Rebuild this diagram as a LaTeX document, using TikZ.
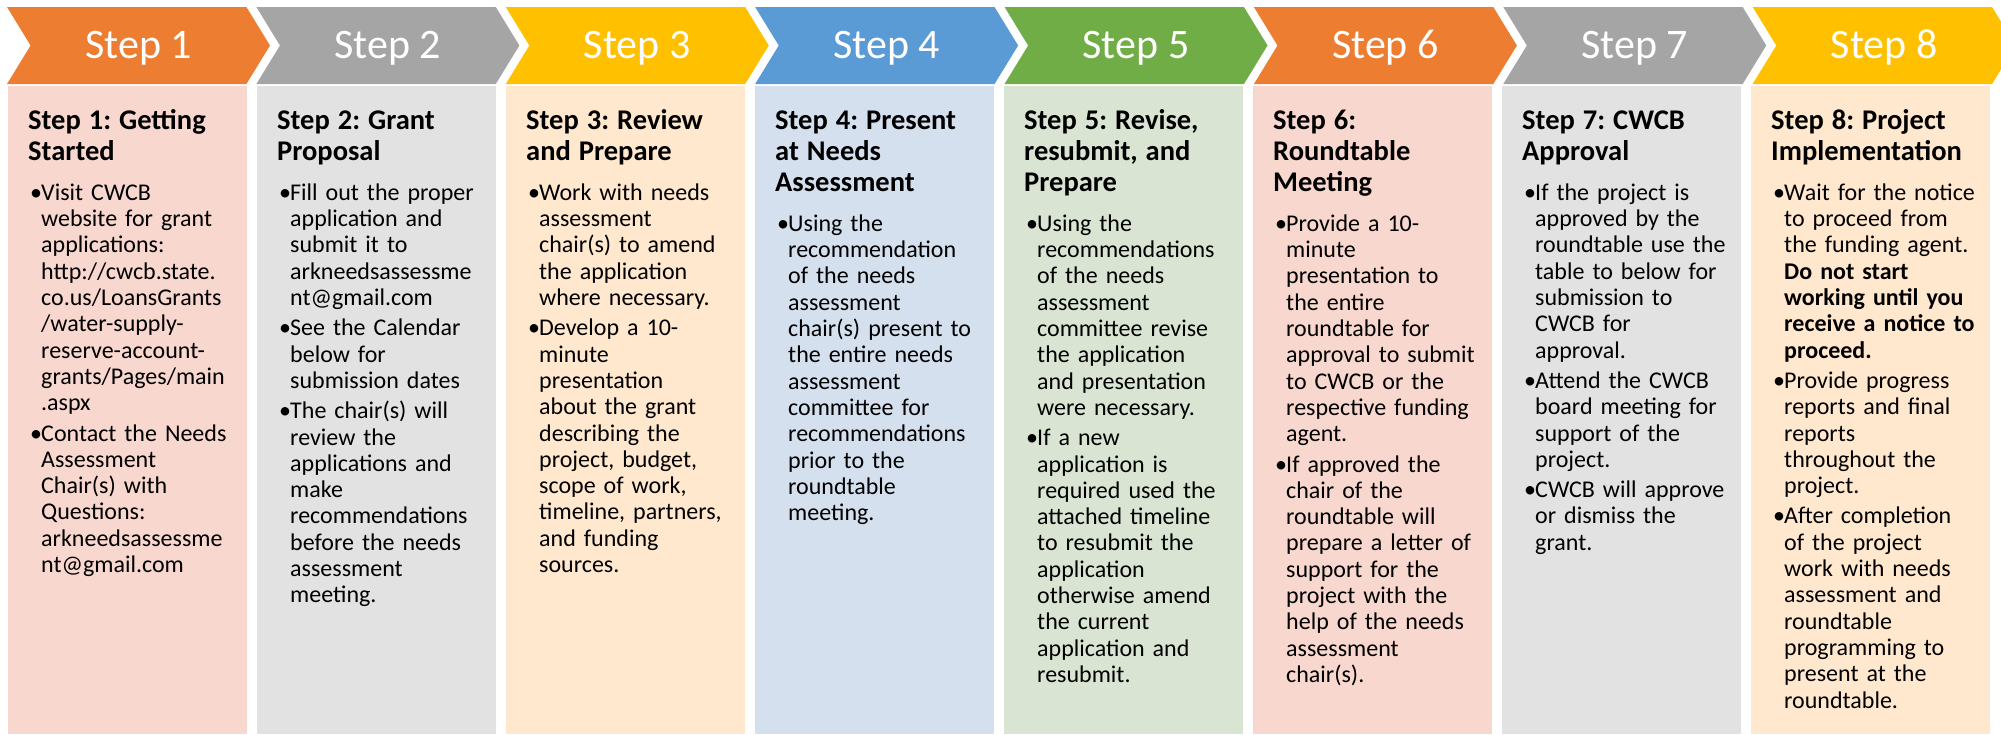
\documentclass[tikz,border=0pt]{standalone}
\usepackage{fontspec}
\setmainfont{Carlito}
\usetikzlibrary{shapes.symbols, positioning, chains}

\definecolor{orng}{HTML}{ED7D31}
\definecolor{gry}{HTML}{A5A5A5}
\definecolor{gld}{HTML}{FFC000}
\definecolor{blu}{HTML}{5B9BD5}
\definecolor{grn}{HTML}{70AD47}
\definecolor{orngL}{HTML}{F8D8CE}
\definecolor{gryL}{HTML}{E2E2E2}
\definecolor{gldL}{HTML}{FFE8CE}
\definecolor{bluL}{HTML}{D5E0EE}
\definecolor{grnL}{HTML}{D9E5D2}

% title and bullet of a panel
\newcommand{\ttl}[1]{{\let\\\newline\frenchspacing\fontsize{28.5}{31}\selectfont\bfseries #1\par}\vspace{10pt}}
\newcommand{\bitem}[1]{\par\vspace{4pt}{\let\\\newline\frenchspacing\hangindent=13pt\hangafter=1\noindent\makebox[13pt][l]{\kern2pt\textbullet}#1\par}}

\begin{document}
\begin{tikzpicture}[x=1pt, y=-1pt, start chain=1 going right, node distance=9.5pt,
  chev/.style={signal, signal from=west, signal to=east, signal pointer angle=117,
    minimum width=263pt, minimum height=77pt, inner sep=0pt, text=white,
    font=\fontsize{42}{50}\selectfont, text height=26.5pt, text depth=0pt},
  stepbox/.style={rectangle, anchor=north west, minimum width=239pt, minimum height=648pt, inner sep=0pt},
  desc/.style={anchor=base west, text width=228pt, inner sep=0pt, font=\fontsize{24}{26.3}\selectfont}]
  \useasboundingbox (0,0) rectangle (2001,734);
			% chevrons
			\node[chev, on chain=1, fill=orng] (s1) at (138.5,45.5) {Step 1};
			\node[chev, on chain=1, fill=gry] (s2) {Step 2};
			\node[chev, on chain=1, fill=gld] (s3) {Step 3};
			\node[chev, on chain=1, fill=blu] (s4) {Step 4};
			\node[chev, on chain=1, fill=grn] (s5) {Step 5};
			\node[chev, on chain=1, fill=orng] (s6) {Step 6};
			\node[chev, on chain=1, fill=gry] (s7) {Step 7};
			\node[chev, on chain=1, fill=gld] (s8) {Step 8};
			% panels
			\node[stepbox, fill=orngL] (p1) at (8,86) {};
			\node[stepbox, fill=gryL] (p2) at (257,86) {};
			\node[stepbox, fill=gldL] (p3) at (506,86) {};
			\node[stepbox, fill=bluL] (p4) at (755,86) {};
			\node[stepbox, fill=grnL] (p5) at (1004,86) {};
			\node[stepbox, fill=orngL] (p6) at (1253,86) {};
			\node[stepbox, fill=gryL] (p7) at (1502,86) {};
			\node[stepbox, fill=gldL] (p8) at (1751,86) {};
			% texts
			\node[desc] (d1) at ([xshift=20pt,yshift=-43pt]p1.north west) {\ttl{Step 1: Getting\\Started}%
				\bitem{Visit CWCB\\website for grant\\applications:\\http://cwcb.state.\\co.us/LoansGrants\\/water-supply-\\reserve-account-\\grants/Pages/main\\.aspx}%
				\bitem{Contact the Needs\\Assessment\\Chair(s) with\\Questions:\\arkneedsassessme\\nt@gmail.com}};
			\node[desc] (d2) at ([xshift=20pt,yshift=-43pt]p2.north west) {\ttl{Step 2: Grant\\Proposal}%
				\bitem{Fill out the proper\\application and\\submit it to\\arkneedsassessme\\nt@gmail.com}%
				\bitem{See the Calendar\\below for\\submission dates}%
				\bitem{The chair(s) will\\review the\\applications and\\make\\recommendations\\before the needs\\assessment\\meeting.}};
			\node[desc] (d3) at ([xshift=20pt,yshift=-43pt]p3.north west) {\ttl{Step 3: Review\\and Prepare}%
				\bitem{Work with needs\\assessment\\chair(s) to amend\\the application\\where necessary.}%
				\bitem{Develop a 10-\\minute\\presentation\\about the grant\\describing the\\project, budget,\\scope of work,\\timeline, partners,\\and funding\\sources.}};
			\node[desc] (d4) at ([xshift=20pt,yshift=-43pt]p4.north west) {\ttl{Step 4: Present\\at Needs\\Assessment}%
				\bitem{Using the\\recommendation\\of the needs\\assessment\\chair(s) present to\\the entire needs\\assessment\\committee for\\recommendations\\prior to the\\roundtable\\meeting.}};
			\node[desc] (d5) at ([xshift=20pt,yshift=-43pt]p5.north west) {\ttl{Step 5: Revise,\\resubmit, and\\Prepare}%
				\bitem{Using the\\recommendations\\of the needs\\assessment\\committee revise\\the application\\and presentation\\were necessary.}%
				\bitem{If a new\\application is\\required used the\\attached timeline\\to resubmit the\\application\\otherwise amend\\the current\\application and\\resubmit.}};
			\node[desc] (d6) at ([xshift=20pt,yshift=-43pt]p6.north west) {\ttl{Step 6:\\Roundtable\\Meeting}%
				\bitem{Provide a 10-\\minute\\presentation to\\the entire\\roundtable for\\approval to submit\\to CWCB or the\\respective funding\\agent.}%
				\bitem{If approved the\\chair of the\\roundtable will\\prepare a letter of\\support for the\\project with the\\help of the needs\\assessment\\chair(s).}};
			\node[desc] (d7) at ([xshift=20pt,yshift=-43pt]p7.north west) {\ttl{Step 7: CWCB\\Approval}%
				\bitem{If the project is\\approved by the\\roundtable use the\\table to below for\\submission to\\CWCB for\\approval.}%
				\bitem{Attend the CWCB\\board meeting for\\support of the\\project.}%
				\bitem{CWCB will approve\\or dismiss the\\grant.}};
			\node[desc] (d8) at ([xshift=20pt,yshift=-43pt]p8.north west) {\ttl{Step 8: Project\\Implementation}%
				\bitem{Wait for the notice\\to proceed from\\the funding agent.\\\textbf{Do not start\\working until you\\receive a notice to\\proceed.}}%
				\bitem{Provide progress\\reports and final\\reports\\throughout the\\project.}%
				\bitem{After completion\\of the project\\work with needs\\assessment and\\roundtable\\programming to\\present at the\\roundtable.}};
\end{tikzpicture}
\end{document}
